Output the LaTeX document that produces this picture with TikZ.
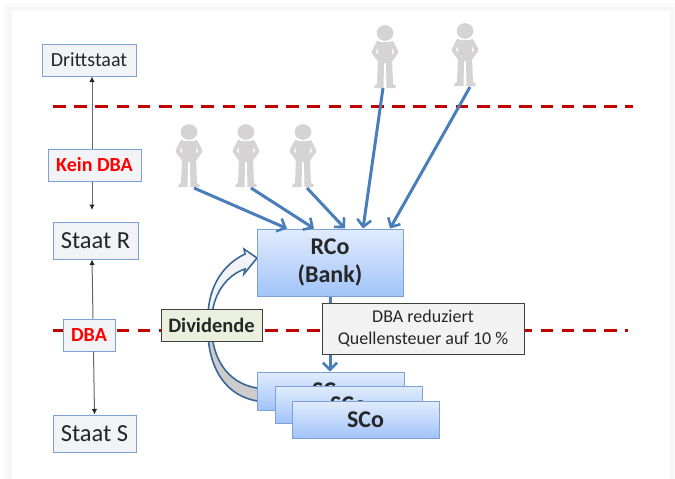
\documentclass[tikz,border=0pt]{standalone}
\usepackage{fontspec}
\setmainfont{Carlito}
\usetikzlibrary{arrows.meta,shadows}
\tikzset{
    state-box/.style = {draw=boxblue, fill=boxgrey, line width=1pt, rectangle, inner sep=0pt, text=textdark},
    red-box/.style = {state-box, text=red, font=\fontsize{20}{24}\selectfont\bfseries},
    bank-box/.style = {draw=boxblue, top color=bankhigh, bottom color=banklow, line width=1pt, rectangle, inner sep=0pt, text=textdark, align=center, font=\fontsize{24}{28}\selectfont\bfseries, drop shadow={shadow xshift=1pt, shadow yshift=-1pt, opacity=0.3}},
    note-box/.style = {draw=notedark, line width=1pt, rectangle, inner sep=0pt, align=center, drop shadow={shadow xshift=1pt, shadow yshift=-1pt, opacity=0.35}},
    border-line/.style = {draw=borderred, line width=3pt, dash pattern=on 12.5pt off 8.7pt},
    thin-arrow/.style = {draw=black!60, line width=1pt, -{Latex[length=5.5pt, width=5.5pt, black!85]}},
    owner-arrow/.style = {draw=ownerblue, line width=3pt, -{Straight Barb[length=7pt, width=14pt, line width=2.6pt]}},
    person/.pic = {
        \fill[persongrey] (0,7) ellipse [x radius=8.4, y radius=7.8];
        \fill[persongrey] (-7.5,16) -- (7.5,16) -- (7,33) -- (8,58) -- (11,60) -- (10,62) -- (1.5,62) -- (1,37) -- (-1,37) -- (-1.5,62) -- (-11,62) -- (-10,59) -- (-8,58) -- (-7,33) -- cycle;
        \draw[persongrey, line width=4pt, line cap=round, line join=round] (-7,17) -- (-11.5,26) -- (-5,35);
        \draw[persongrey, line width=4pt, line cap=round, line join=round] (7,17) -- (11.5,26) -- (5,35);
    },
}
\definecolor{boxblue}{HTML}{7CA1D2}
\definecolor{boxgrey}{HTML}{F2F3F6}
\definecolor{textdark}{HTML}{262626}
\definecolor{bankhigh}{HTML}{E1ECFD}
\definecolor{banklow}{HTML}{A1C4F9}
\definecolor{notedark}{HTML}{404040}
\definecolor{notegreen}{HTML}{EBF0DE}
\definecolor{borderred}{HTML}{C00000}
\definecolor{ownerblue}{HTML}{4A7EBB}
\definecolor{persongrey}{HTML}{D5D3D3}
\definecolor{curvedark}{HTML}{3A6797}

\begin{document}
\begin{tikzpicture}[x=1pt, y=-1pt]
\useasboundingbox (0,0) rectangle (675,479);
% page with its soft edge
\fill[black!2] (4,3) rectangle (675,479);
\fill[black!3] (8,7) rectangle (673,479);
\fill[white] (12,11) rectangle (670,479);

\draw[border-line] (53,106.5) -- (633,106.5);
\draw[border-line] (53,330) -- (628,330);

% the states
\node[state-box, minimum width=94pt, minimum height=32pt, font=\fontsize{20}{24}\selectfont] (drittstaat) at (89,60) {Drittstaat};
\node[state-box, minimum width=85pt, minimum height=37pt, font=\fontsize{24.5}{28}\selectfont] (staatr) at (95.5,240.5) {Staat R};
\node[state-box, minimum width=83pt, minimum height=37pt, font=\fontsize{24.5}{28}\selectfont] (staats) at (94.5,433.5) {Staat S};
\coordinate (staatrtip) at (92,210);
\node[red-box, minimum width=93pt, minimum height=32pt] (keindba) at (94.5,165) {Kein DBA};
\node[red-box, minimum width=52pt, minimum height=32pt] (dba) at (89,335) {DBA};

\draw[thin-arrow] ([xshift=-2.5pt]keindba.north) -- ([xshift=3pt]drittstaat.south);
\draw[thin-arrow] ([xshift=-2.5pt]keindba.south) -- (staatrtip);
\draw[thin-arrow] ([xshift=4pt]dba.north) -- ([xshift=-3.5pt]staatr.south);
\draw[thin-arrow] ([xshift=4.5pt]dba.south) -- (staats.north);

% the shareholders
\pic at (189,125) {person};
\pic at (246,125) {person};
\pic at (303,125) {person};
\pic at (385,26) {person};
\pic at (465,24) {person};
\coordinate (owner1) at (194,188);
\coordinate (owner2) at (251,188);
\coordinate (owner3) at (307,188);
\coordinate (owner4) at (383,88);
\coordinate (owner5) at (470,87);

% dividend flow, lower and upper part
\filldraw[draw=curvedark, fill=black!20, line width=1.6pt] (257,401) .. controls (228,396) and (210,372) .. (208,335) -- (212,335) .. controls (215,365) and (232,384) .. (257,388);
\filldraw[draw=curvedark, fill=boxgrey, line width=1.6pt] (208,315) .. controls (209,285) and (224,264) .. (245,254) -- (244,249) -- (257,258) -- (244,274) -- (245,269) .. controls (227,275) and (214,293) .. (212,315);

\node[bank-box, minimum width=146pt, minimum height=67pt] (rco) at (330,262.5) {RCo\\(Bank)};
\node[bank-box, minimum width=147pt, minimum height=38pt] (sco1) at (330.5,391) {SCo};
\node[bank-box, minimum width=147pt, minimum height=37pt] (sco2) at (348.5,404.5) {SCo};
\node[bank-box, minimum width=147pt, minimum height=37pt] (sco3) at (365.5,419.5) {SCo};

\draw[owner-arrow] (owner1) -- ([xshift=-43pt]rco.north);
\draw[owner-arrow] (owner2) -- ([xshift=-16pt]rco.north);
\draw[owner-arrow] (owner3) -- ([xshift=15pt]rco.north);
\draw[owner-arrow] (owner4) -- ([xshift=33pt]rco.north);
\draw[owner-arrow] (owner5) -- ([xshift=60pt]rco.north);
\draw[owner-arrow] (rco.south) -- (sco1.north -| rco.south);

\node[note-box, fill=notegreen, minimum width=101pt, minimum height=32pt, text=textdark, font=\fontsize{20.5}{24}\selectfont\bfseries] (dividende) at (211.5,325) {Dividende};
\node[note-box, fill=black!5, minimum width=202pt, minimum height=51pt, text=textdark, font=\fontsize{18}{22}\selectfont] (steuer) at (423,328.5) {DBA reduziert\\Quellensteuer auf 10 \%};
\end{tikzpicture}
\end{document}
